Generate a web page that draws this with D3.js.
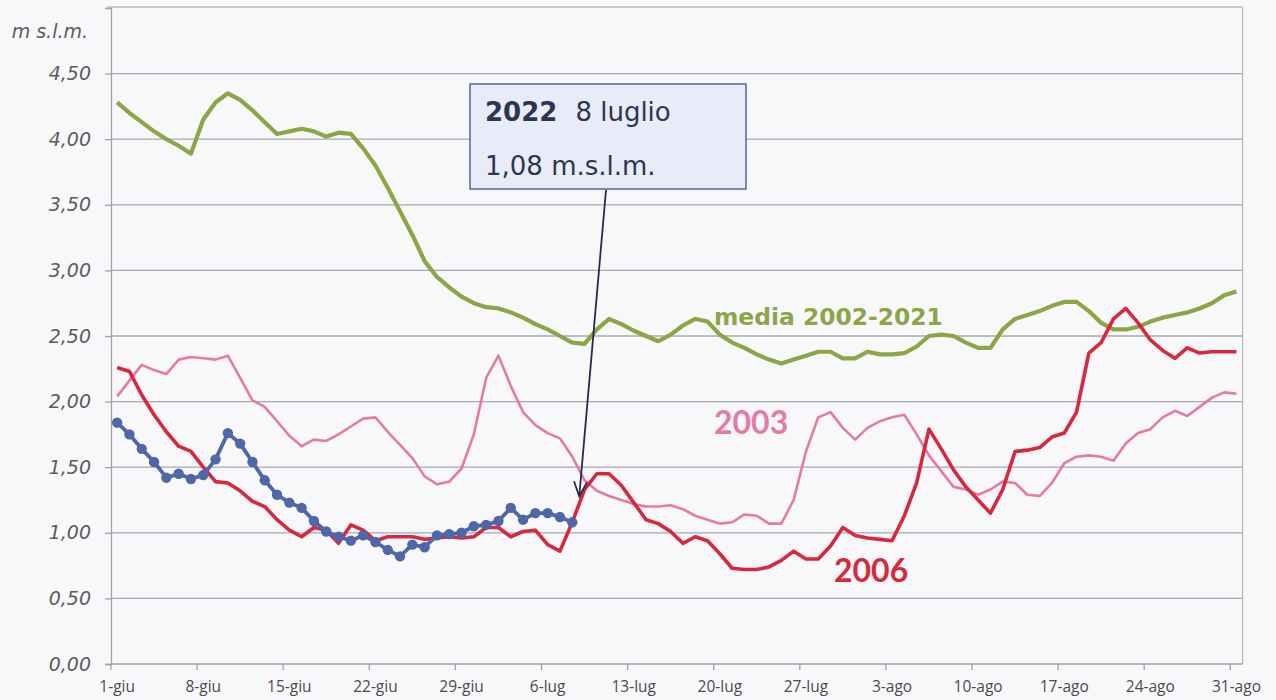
<!DOCTYPE html>
<html>
<head>
<meta charset="utf-8">
<script src="https://cdn.jsdelivr.net/npm/d3@7"></script>
<style>
  body { margin: 0; background: #f8f8fa; }
  svg { display: block; }
</style>
</head>
<body>
<svg id="chart" width="1276" height="700"></svg>
<script>
// Tick labels of x axis (one every 7 days)
const xTickLabels = ["1-giu", "8-giu", "15-giu", "22-giu", "29-giu", "6-lug", "13-lug",
  "20-lug", "27-lug", "3-ago", "10-ago", "17-ago", "24-ago", "31-ago"];
const yTicks = [0, 0.5, 1, 1.5, 2, 2.5, 3, 3.5, 4, 4.5];

// Days from 1 June to 31 August
const days = d3.timeDay.range(new Date(2022, 5, 1), new Date(2022, 8, 1));

// Levels (m s.l.m.), one value per day
const media = [4.28, 4.20, 4.13, 4.06, 4.00, 3.95, 3.89, 4.15, 4.28, 4.35,
  4.30, 4.22, 4.13, 4.04, 4.06, 4.08, 4.06, 4.02, 4.05, 4.04,
  3.93, 3.80, 3.63, 3.45, 3.27, 3.07, 2.95, 2.87, 2.80, 2.75,
  2.72, 2.71, 2.68, 2.64, 2.59, 2.55, 2.50, 2.45, 2.44, 2.55,
  2.63, 2.59, 2.54, 2.50, 2.46, 2.51, 2.58, 2.63, 2.61, 2.51,
  2.45, 2.41, 2.36, 2.32, 2.29, 2.32, 2.35, 2.38, 2.38, 2.33,
  2.33, 2.38, 2.36, 2.36, 2.37, 2.42, 2.50, 2.51, 2.50, 2.45,
  2.41, 2.41, 2.55, 2.63, 2.66, 2.69, 2.73, 2.76, 2.76, 2.69,
  2.60, 2.55, 2.55, 2.57, 2.61, 2.64, 2.66, 2.68, 2.71, 2.75,
  2.81, 2.84];

const y2003 = [2.04, 2.16, 2.28, 2.24, 2.21, 2.32, 2.34, 2.33, 2.32, 2.35,
  2.18, 2.01, 1.96, 1.85, 1.74, 1.66, 1.71, 1.70, 1.75, 1.81,
  1.87, 1.88, 1.77, 1.67, 1.57, 1.43, 1.37, 1.39, 1.49, 1.75,
  2.18, 2.35, 2.12, 1.92, 1.82, 1.76, 1.72, 1.58, 1.40, 1.32,
  1.28, 1.25, 1.22, 1.20, 1.20, 1.21, 1.18, 1.13, 1.10, 1.07,
  1.08, 1.14, 1.13, 1.07, 1.07, 1.25, 1.62, 1.88, 1.92, 1.80,
  1.71, 1.80, 1.85, 1.88, 1.90, 1.75, 1.59, 1.47, 1.35, 1.33,
  1.29, 1.33, 1.39, 1.38, 1.29, 1.28, 1.38, 1.53, 1.58, 1.59,
  1.58, 1.55, 1.68, 1.76, 1.79, 1.88, 1.93, 1.89, 1.96, 2.03,
  2.07, 2.06];

const y2006 = [2.26, 2.23, 2.05, 1.90, 1.77, 1.66, 1.62, 1.50, 1.39, 1.38,
  1.32, 1.24, 1.20, 1.10, 1.02, 0.97, 1.04, 1.02, 0.92, 1.06,
  1.02, 0.94, 0.97, 0.97, 0.97, 0.95, 0.96, 0.97, 0.96, 0.97,
  1.04, 1.04, 0.97, 1.01, 1.02, 0.91, 0.86, 1.08, 1.33, 1.45,
  1.45, 1.36, 1.23, 1.10, 1.07, 1.01, 0.92, 0.97, 0.94, 0.84,
  0.73, 0.72, 0.72, 0.74, 0.79, 0.86, 0.80, 0.80, 0.90, 1.04,
  0.98, 0.96, 0.95, 0.94, 1.13, 1.38, 1.79, 1.64, 1.48, 1.35,
  1.25, 1.15, 1.33, 1.62, 1.63, 1.65, 1.73, 1.76, 1.92, 2.37,
  2.45, 2.63, 2.71, 2.60, 2.47, 2.39, 2.33, 2.41, 2.37, 2.38,
  2.38, 2.38];

// 2022 up to 8 July
const y2022 = [1.84, 1.75, 1.64, 1.54, 1.42, 1.45, 1.41, 1.44, 1.56, 1.76,
  1.68, 1.54, 1.40, 1.29, 1.23, 1.19, 1.09, 1.01, 0.97, 0.94,
  0.98, 0.93, 0.87, 0.82, 0.91, 0.89, 0.98, 0.99, 1.00, 1.05,
  1.06, 1.09, 1.19, 1.10, 1.15, 1.15, 1.12, 1.08];

const svg = d3.select("#chart");
const plot = { left: 111, top: 8, right: 1242.6, bottom: 664 };

const itLocale = d3.formatLocale({ decimal: ",", thousands: ".", grouping: [3], currency: ["€", ""] });
const fmtY = itLocale.format(".2f");

const x = d3.scaleBand()
  .domain(days.map((d, i) => i))
  .range([plot.left, plot.right])
  .padding(0);
const xc = (i) => x(i) + x.bandwidth() / 2;

const y = d3.scaleLinear().domain([0, 5]).range([plot.bottom, plot.top]);

// Gridlines
svg.append("g")
  .selectAll("line")
  .data(yTicks.filter((t) => t > 0))
  .join("line")
  .attr("x1", plot.left)
  .attr("x2", plot.right)
  .attr("y1", (d) => y(d))
  .attr("y2", (d) => y(d))
  .attr("stroke", "#a7a8b2")
  .attr("stroke-width", 1.3);

// Top and right borders
svg.append("line")
  .attr("x1", plot.left - 4).attr("x2", plot.right)
  .attr("y1", plot.top - 1).attr("y2", plot.top - 1)
  .attr("stroke", "#b9bea0").attr("stroke-width", 1.3);
svg.append("line")
  .attr("x1", plot.right).attr("x2", plot.right)
  .attr("y1", plot.top - 1).attr("y2", plot.bottom)
  .attr("stroke", "#b9bea0").attr("stroke-width", 1.3);

// Y axis
const axisY = d3.axisLeft(y).tickValues(yTicks).tickSize(6).tickPadding(14).tickFormat(fmtY);
const gY = svg.append("g").attr("transform", `translate(${plot.left},0)`).call(axisY);
gY.select(".domain").attr("stroke", "#a0a0a8").attr("stroke-width", 1.3);
gY.selectAll(".tick line").attr("stroke", "#a0a0a8").attr("stroke-width", 1.3);
gY.selectAll(".tick text")
  .attr("fill", "#5b5b60")
  .style("font-family", "'DejaVu Sans', Verdana, sans-serif")
  .style("font-style", "italic")
  .style("font-size", "19px");

svg.append("text")
  .attr("x", 88).attr("y", 38)
  .attr("text-anchor", "end")
  .attr("fill", "#5b5b60")
  .style("font-family", "'DejaVu Sans', Verdana, sans-serif")
  .style("font-style", "italic")
  .style("font-size", "19px")
  .text("m s.l.m.");

// X axis: ticks on band boundaries, labels at band centre
const tickIdx = xTickLabels.map((d, i) => i * 7);
const gX = svg.append("g").attr("transform", `translate(0,${plot.bottom})`);
gX.append("line")
  .attr("x1", plot.left).attr("x2", plot.right)
  .attr("stroke", "#a0a0a8").attr("stroke-width", 1.3);
gX.selectAll(".tk")
  .data(tickIdx)
  .join("line")
  .attr("class", "tk")
  .attr("x1", (d) => x(d)).attr("x2", (d) => x(d))
  .attr("y1", 0).attr("y2", 6)
  .attr("stroke", "#a0a0a8").attr("stroke-width", 1.3);
gX.selectAll(".lbl")
  .data(tickIdx)
  .join("text")
  .attr("class", "lbl")
  .attr("x", (d) => xc(d))
  .attr("y", 28)
  .attr("text-anchor", "middle")
  .attr("fill", "#4a4a50")
  .style("font-family", "'Open Sans', sans-serif")
  .style("font-size", "15.5px")
  .text((d, i) => xTickLabels[i]);

const line = d3.line().x((d, i) => xc(i)).y((d) => y(d));

// Series
svg.append("path").datum(media)
  .attr("d", line).attr("fill", "none")
  .attr("stroke", "#8ca545").attr("stroke-width", 4.2)
  .attr("stroke-linejoin", "round");
svg.append("path").datum(y2003)
  .attr("d", line).attr("fill", "none")
  .attr("stroke", "#e67aa3").attr("stroke-width", 2.6)
  .attr("stroke-linejoin", "round");
svg.append("path").datum(y2006)
  .attr("d", line).attr("fill", "none")
  .attr("stroke", "#d8283d").attr("stroke-width", 3.6)
  .attr("stroke-linejoin", "round");
svg.append("path").datum(y2022)
  .attr("d", line).attr("fill", "none")
  .attr("stroke", "#4f66a9").attr("stroke-width", 3.8)
  .attr("stroke-linejoin", "round");
svg.append("g")
  .selectAll("circle")
  .data(y2022)
  .join("circle")
  .attr("cx", (d, i) => xc(i))
  .attr("cy", (d) => y(d))
  .attr("r", 5.2)
  .attr("fill", "#4f66a9");

// Series labels
svg.append("text")
  .attr("x", 714).attr("y", 325)
  .attr("fill", "#8ca545")
  .style("font-family", "'DejaVu Sans', Verdana, sans-serif")
  .style("font-weight", "bold")
  .style("font-size", "23.4px")
  .text("media 2002-2021");
svg.append("text")
  .attr("x", 714).attr("y", 434)
  .attr("fill", "#e67aa3")
  .style("font-family", "Lato, sans-serif")
  .style("font-weight", "bold")
  .style("font-size", "32px")
  .text("2003");
svg.append("text")
  .attr("x", 834).attr("y", 582)
  .attr("fill", "#d8283d")
  .style("font-family", "Lato, sans-serif")
  .style("font-weight", "bold")
  .style("font-size", "32px")
  .text("2006");

// Annotation box
const last = y2022.length - 1;
const box = svg.append("g");
box.append("rect")
  .attr("x", 470).attr("y", 84)
  .attr("width", 276).attr("height", 105)
  .attr("fill", "#e7ecf8")
  .attr("stroke", "#5d6ca3").attr("stroke-width", 1.6);
const t1 = box.append("text")
  .attr("x", 485).attr("y", 121)
  .attr("fill", "#2d3552")
  .style("font-family", "'DejaVu Sans', Verdana, sans-serif")
  .style("font-size", "26px");
t1.append("tspan").style("font-weight", "bold").text("2022");
t1.append("tspan").attr("dx", 18).text("8 luglio");
box.append("text")
  .attr("x", 485).attr("y", 175)
  .attr("fill", "#2d3552")
  .style("font-family", "'DejaVu Sans', Verdana, sans-serif")
  .style("font-size", "26px")
  .text("1,08 m.s.l.m.");

// Arrow to last 2022 value
const tip = [xc(last) + 7, y(y2022[last]) - 26];
const start = [606, 190];
svg.append("line")
  .attr("x1", start[0]).attr("y1", start[1])
  .attr("x2", tip[0]).attr("y2", tip[1])
  .attr("stroke", "#222c55").attr("stroke-width", 1.8);
const ang = Math.atan2(tip[1] - start[1], tip[0] - start[0]);
const hl = 16, ha = 0.42;
svg.append("path")
  .attr("d", `M${tip[0] - hl * Math.cos(ang - ha)},${tip[1] - hl * Math.sin(ang - ha)}` +
    `L${tip[0]},${tip[1]}L${tip[0] - hl * Math.cos(ang + ha)},${tip[1] - hl * Math.sin(ang + ha)}`)
  .attr("fill", "none")
  .attr("stroke", "#222c55").attr("stroke-width", 1.8);
</script>
</body>
</html>
